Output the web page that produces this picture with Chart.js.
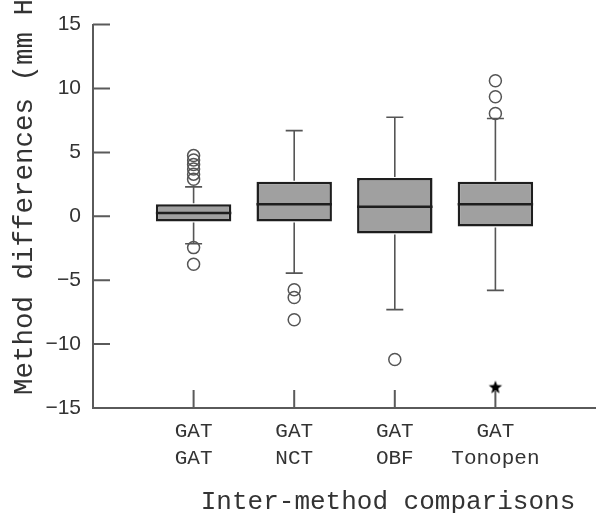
<!DOCTYPE html>
<html>
<head>
<meta charset="utf-8">
<script src="https://cdn.jsdelivr.net/npm/chart.js@4"></script>
<style>
  html, body { margin: 0; padding: 0; background: #fff; }
</style>
</head>
<body>
<canvas id="myChart" width="596" height="513"></canvas>
<script>
// two-line category labels under each box
var labelTop = ['GAT', 'GAT', 'GAT', 'GAT'];
var labelBottom = ['GAT', 'NCT', 'OBF', 'Tonopen'];

// box statistics (mm Hg)
var q1 = [-0.4, -0.4, -1.35, -0.8];
var q3 = [0.95, 2.7, 3.0, 2.7];
var medians = [0.25, 0.95, 0.75, 0.95];
var whiskerLow = [-2.15, -4.45, -7.3, -5.8];
var whiskerHigh = [2.3, 6.7, 7.75, 7.65];

// outliers (circles) and extreme value (star)
var outliers = [
  [4.75, 4.4, 4.05, 3.7, 3.3, 2.9, -2.45, -3.75],
  [-5.75, -6.35, -8.1],
  [-11.2],
  [10.6, 9.35, 8.05]
];
var extremeGroup = [4];
var extremeValue = [-13.4];

var yTicks = [-15, -10, -5, 0, 5, 10, 15];

var boxData = q1.map(function(v, i) { return { x: i + 1, y: [v, q3[i]] }; });
var outlierData = [];
outliers.forEach(function(list, i) {
  list.forEach(function(v) { outlierData.push({ x: i + 1, y: v }); });
});
var extremeData = extremeGroup.map(function(g, i) { return { x: g, y: extremeValue[i] }; });

// filled five point star for the extreme value
function makeStar(r) {
  var c = document.createElement('canvas');
  c.width = c.height = r * 2 + 2;
  var g = c.getContext('2d');
  g.translate(r + 1, r + 1);
  g.beginPath();
  for (var k = 0; k < 10; k++) {
    var rad = k % 2 === 0 ? r : r * 0.42;
    var a = -Math.PI / 2 + k * Math.PI / 5;
    g.lineTo(Math.cos(a) * rad, Math.sin(a) * rad);
  }
  g.closePath();
  g.fillStyle = '#000';
  g.fill();
  return c;
}

var axisColor = '#5a5a5a';
var textColor = '#333';

var boxExtras = {
  id: 'boxExtras',
  afterDatasetsDraw: function(chart) {
    var ctx = chart.ctx, x = chart.scales.x, y = chart.scales.y;
    var half = chart.getDatasetMeta(0).data[0].width / 2;
    ctx.save();
    for (var i = 0; i < q1.length; i++) {
      var px = x.getPixelForValue(i + 1);
      var capHalf = 8.5;
      ctx.strokeStyle = '#555';
      ctx.lineWidth = 1.6;
      ctx.beginPath();
      ctx.moveTo(px, y.getPixelForValue(q3[i]) - 1);
      ctx.lineTo(px, y.getPixelForValue(whiskerHigh[i]));
      ctx.moveTo(px - capHalf, y.getPixelForValue(whiskerHigh[i]));
      ctx.lineTo(px + capHalf, y.getPixelForValue(whiskerHigh[i]));
      ctx.moveTo(px, y.getPixelForValue(q1[i]) + 1);
      ctx.lineTo(px, y.getPixelForValue(whiskerLow[i]));
      ctx.moveTo(px - capHalf, y.getPixelForValue(whiskerLow[i]));
      ctx.lineTo(px + capHalf, y.getPixelForValue(whiskerLow[i]));
      ctx.stroke();
      // median
      ctx.strokeStyle = '#1e1e1e';
      ctx.lineWidth = 2.5;
      ctx.beginPath();
      ctx.moveTo(px - half, y.getPixelForValue(medians[i]));
      ctx.lineTo(px + half, y.getPixelForValue(medians[i]));
      ctx.stroke();
    }
    ctx.restore();
  },
  afterDraw: function(chart) {
    var ctx = chart.ctx, x = chart.scales.x, y = chart.scales.y, area = chart.chartArea;
    ctx.save();
    // inward tick marks
    ctx.strokeStyle = axisColor;
    ctx.lineWidth = 2;
    ctx.beginPath();
    yTicks.forEach(function(v) {
      var py = y.getPixelForValue(v);
      ctx.moveTo(area.left, py);
      ctx.lineTo(area.left + 17, py);
    });
    labelBottom.forEach(function(l, i) {
      var px = x.getPixelForValue(i + 1);
      ctx.moveTo(px, area.bottom);
      ctx.lineTo(px, area.bottom - 18);
    });
    ctx.stroke();
    // axis titles
    ctx.fillStyle = textColor;
    ctx.font = '26px "Liberation Mono", monospace';
    ctx.textAlign = 'center';
    ctx.textBaseline = 'alphabetic';
    ctx.fillText('Inter-method comparisons', 388, 509);
    ctx.font = '27.5px "Liberation Mono", monospace';
    ctx.translate(32, 395);
    ctx.rotate(-Math.PI / 2);
    ctx.textAlign = 'left';
    ctx.fillText('Method differences (mm Hg)', 0, 0);
    ctx.restore();
  }
};

var ctx = document.getElementById('myChart').getContext('2d');
var chart = new Chart(ctx, {
  type: 'bar',
  data: {
    datasets: [{
      type: 'bar',
      data: boxData,
      backgroundColor: '#a0a0a0',
      borderColor: '#1e1e1e',
      borderWidth: 2.5,
      borderSkipped: false,
      barPercentage: 0.75,
      categoryPercentage: 1
    }, {
      type: 'scatter',
      data: outlierData,
      pointStyle: 'circle',
      pointRadius: 6,
      pointBorderWidth: 1.5,
      pointBorderColor: '#555',
      pointBackgroundColor: 'rgba(0,0,0,0)'
    }, {
      type: 'scatter',
      data: extremeData,
      pointStyle: makeStar(7),
      pointRadius: 7
    }]
  },
  options: {
    responsive: false,
    animation: false,
    layout: { autoPadding: false, padding: { top: 19, right: 0, left: 0, bottom: 0 } },
    plugins: { legend: { display: false }, tooltip: { enabled: false } },
    scales: {
      x: {
        type: 'linear',
        offset: false,
        min: 0,
        max: 5,
        afterFit: function(s) { s.height = 105; },
        afterBuildTicks: function(s) {
          s.ticks = labelBottom.map(function(l, i) { return { value: i + 1 }; });
        },
        grid: { display: false, drawTicks: false },
        border: { display: true, color: axisColor, width: 2 },
        ticks: {
          padding: 9,
          color: textColor,
          maxRotation: 0,
          autoSkip: false,
          font: { family: '"Liberation Mono", monospace', size: 21, lineHeight: 1.33 },
          callback: function(v) { return [labelTop[v - 1], labelBottom[v - 1]]; }
        }
      },
      y: {
        min: -15,
        max: 15,
        afterFit: function(s) { s.width = 93; },
        afterBuildTicks: function(s) {
          s.ticks = yTicks.map(function(v) { return { value: v }; });
        },
        grid: { display: false, drawTicks: false },
        border: { display: true, color: axisColor, width: 2 },
        ticks: {
          padding: 12,
          color: textColor,
          font: { family: '"Liberation Sans", Arial, sans-serif', size: 21 },
          callback: function(v) { return String(v).replace('-', '\u2212'); }
        }
      }
    }
  },
  plugins: [boxExtras]
});
</script>
</body>
</html>
